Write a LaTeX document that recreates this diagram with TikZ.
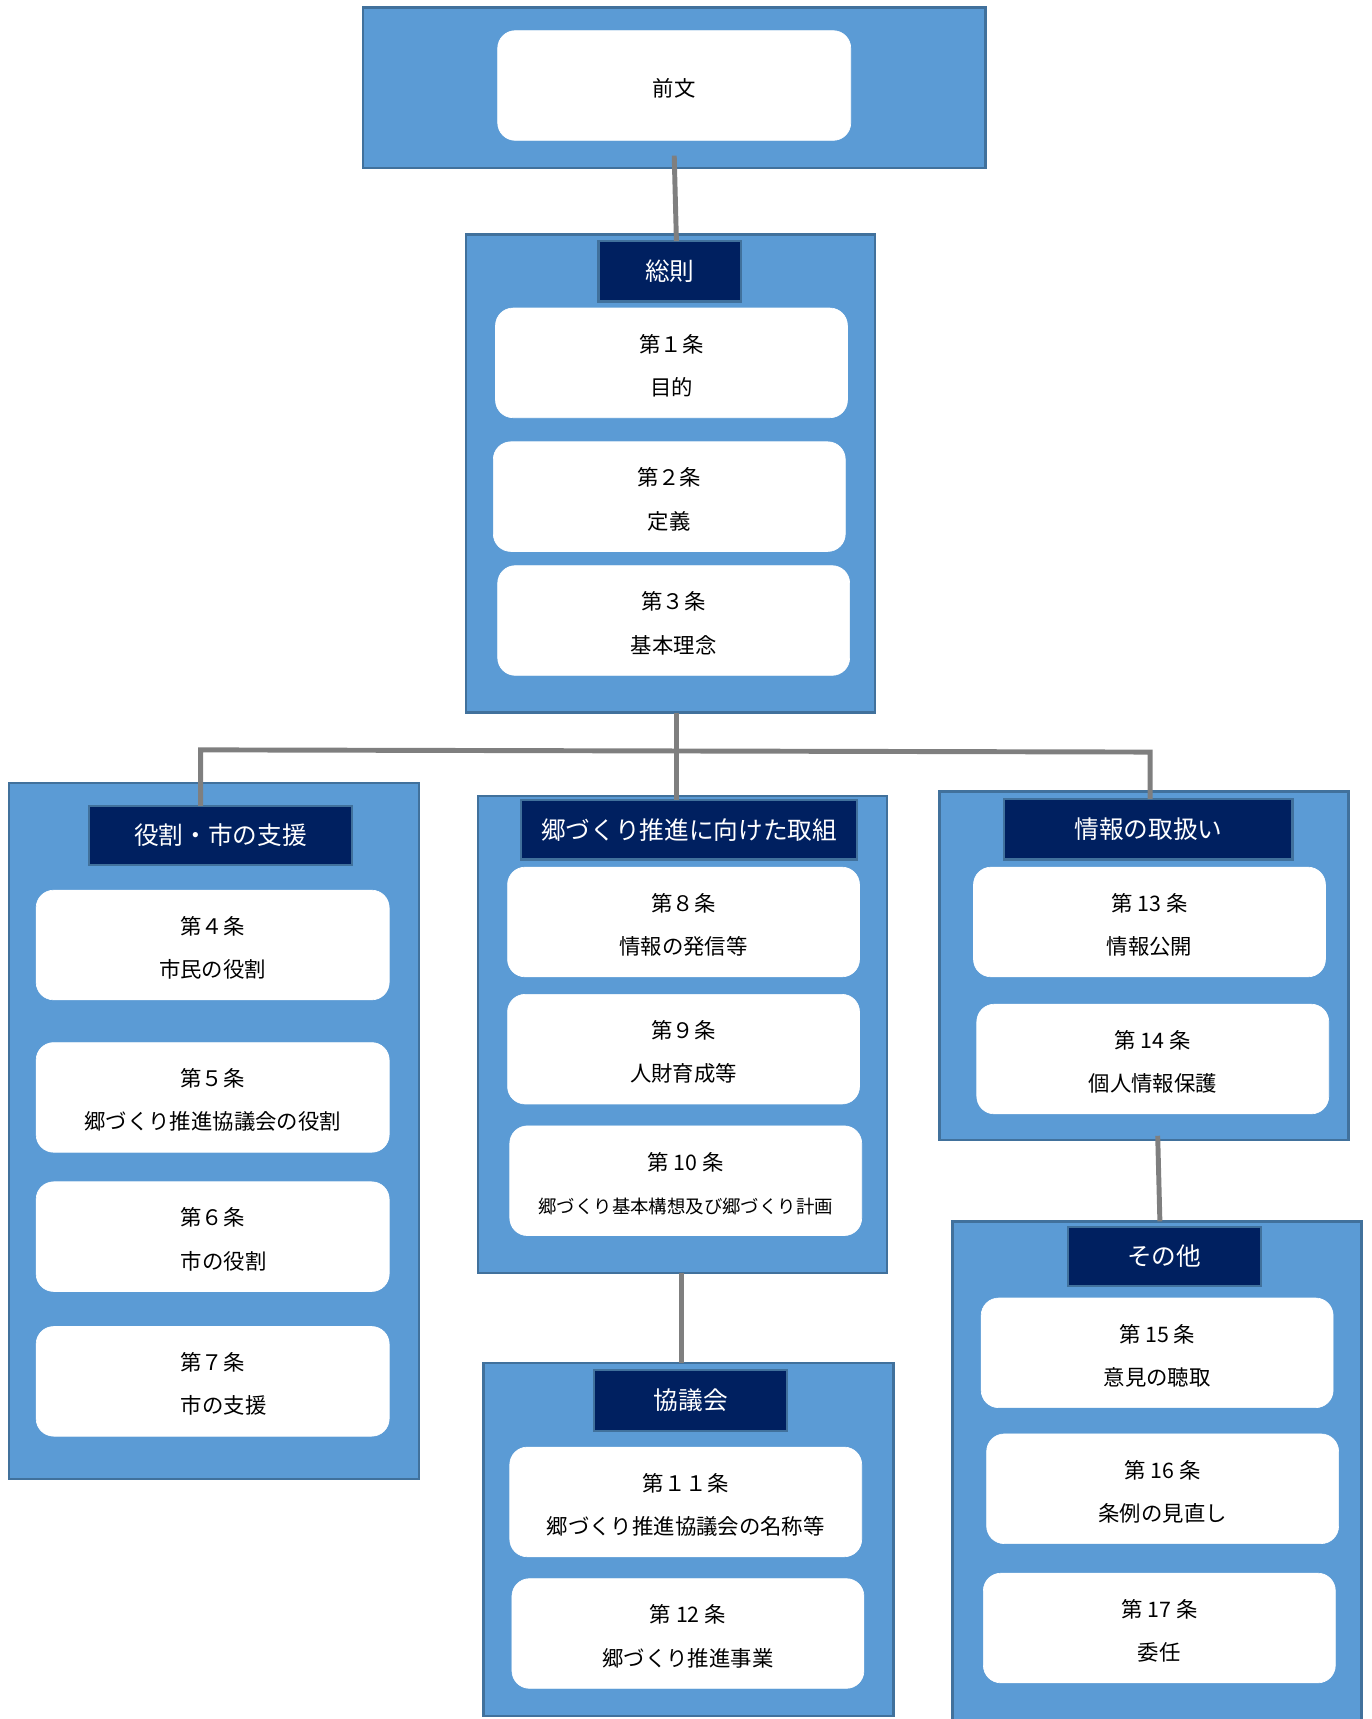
\documentclass[tikz,border=0pt]{standalone}
\usepackage{fontspec}
\setmainfont{Noto Sans CJK JP}
\definecolor{grpfill}{HTML}{5B9BD5}
\definecolor{grpline}{HTML}{41719C}
\definecolor{lblfill}{HTML}{002060}
\definecolor{connc}{HTML}{7F7F7F}
\tikzset{
  grp/.style={draw=grpline, line width=2.2pt, fill=grpfill, inner sep=0pt, outer sep=0pt},
  lbl/.style={draw=grpline, line width=2pt, fill=lblfill, text=white, inner sep=0pt, outer sep=0pt, font=\fontsize{22.5}{26}\selectfont},
  item/.style={draw=white, line width=0.6pt, fill=white, rounded corners=16pt, inner sep=0pt, outer sep=0pt},
  itemtxt/.style={inner sep=0pt, align=center, text=black, font=\fontsize{19.5}{39.5}\selectfont},
  conn/.style={draw=connc, line width=4.5pt}
}
\newcommand{\bx}[7]{\node[#2, minimum width={#5pt-#3pt}, minimum height={#6pt-#4pt}] (#1) at ({(#3+#5)/2},{(#4+#6)/2}) {#7};}
\newcommand{\itm}[6]{\node[item, minimum width={#4pt-#2pt}, minimum height={#5pt-#3pt}] (#1) at ({(#2+#4)/2},{(#3+#5)/2}) {};
  \node[itemtxt] (#1t) at ([yshift=-2.5pt]#1.center) {#6};}
\begin{document}
\begin{tikzpicture}[x=1pt,y=-1pt]
\useasboundingbox (0,0) rectangle (1251,1568);
\begin{scope}
\clip (0,0) rectangle (1251,1568);
% groups
\bx{g0}{grp}{331}{7}{899}{153}{}
\bx{g1}{grp}{425}{214}{798}{650}{}
\bx{gL}{grp}{8}{714}{382}{1349}{}
\bx{gM}{grp}{436}{726}{809}{1161}{}
\bx{gR}{grp}{857}{722}{1230}{1040}{}
\bx{gK}{grp}{441}{1243}{815}{1565}{}
\bx{gS}{grp}{869}{1114}{1242}{1600}{}
\end{scope}
% labels
\bx{l1}{lbl}{546}{220}{676}{275}{総則}
\bx{lL}{lbl}{81}{735}{321}{789}{役割・市の支援}
\bx{lM}{lbl}{475}{730}{782}{784}{郷づくり推進に向けた取組}
\bx{lR}{lbl}{916}{729}{1179}{784}{情報の取扱い}
\bx{lK}{lbl}{542}{1250}{718}{1305}{協議会}
\bx{lS}{lbl}{974}{1119}{1150}{1173}{その他}
% items
\itm{a0}{454}{28}{776}{128}{前文}
\itm{a1}{452}{281}{773}{381}{第１条\\目的}
\itm{a2}{450}{403}{771}{503}{第２条\\定義}
\itm{a3}{454}{516}{775}{616}{第３条\\基本理念}
\itm{a4}{33}{812}{355}{912}{第４条\\市民の役割}
\itm{a5}{33}{951}{355}{1051}{第５条\\郷づくり推進協議会の役割}
\itm{a6}{33}{1078}{355}{1178}{第６条\\\hspace*{20pt}市の役割}
\itm{a7}{33}{1210}{355}{1310}{第７条\\\hspace*{20pt}市の支援}
\itm{a8}{463}{791}{784}{891}{第８条\\情報の発信等}
\itm{a9}{463}{907}{784}{1007}{第９条\\人財育成等}
\itm{a10}{465}{1027}{786}{1127}{第 10 条\\{\fontsize{16.8}{16.8}\selectfont 郷づくり基本構想及び郷づくり計画}}
\itm{a11}{465}{1320}{786}{1420}{第１１条\\郷づくり推進協議会の名称等}
\itm{a12}{467}{1440}{788}{1540}{第 12 条\\郷づくり推進事業}
\itm{a13}{888}{791}{1209}{891}{第 13 条\\情報公開}
\itm{a14}{891}{916}{1212}{1016}{第 14 条\\個人情報保護}
\itm{a15}{895}{1184}{1216}{1284}{第 15 条\\意見の聴取}
\itm{a16}{900}{1308}{1221}{1408}{第 16 条\\条例の見直し}
\itm{a17}{897}{1435}{1218}{1535}{第 17 条\\委任}
% connectors
\coordinate (c0) at (615,142);
\coordinate (jm) at (617,684);
\coordinate (jl) at (183,684);
\coordinate (jr) at (1049,686);
\coordinate (ck) at (622,1161);
\coordinate (cs) at (1056,1036);
\draw[conn] (c0) -- ([xshift=6pt]l1.north);
\draw[conn] (g1.south -| jm) -- (lM.north -| jm);
\draw[conn] (lL.north -| jl) -- (jl) -- (jr) -- (lR.north -| jr);
\draw[conn] (ck) -- (gK.north -| ck);
\draw[conn] (cs) -- ([xshift=2pt]gS.north -| cs);
\end{tikzpicture}
\end{document}
